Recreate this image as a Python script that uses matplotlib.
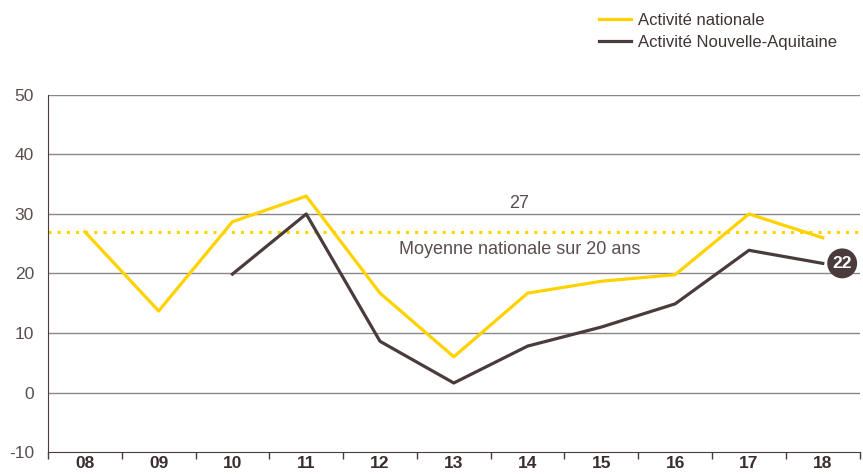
import numpy as np
import matplotlib.pyplot as plt

plt.rcParams['font.family'] = ['Liberation Sans', 'DejaVu Sans']
plt.rcParams['axes.unicode_minus'] = False

years = ['08', '09', '10', '11', '12', '13', '14', '15', '16', '17', '18']
nationale = [27, 13.7, 28.7, 33, 16.7, 6, 16.7, 18.7, 19.8, 30, 26]
nouvelle_aquitaine = [None, None, 19.9, 30, 8.6, 1.6, 7.8, 11, 14.9, 23.9, 21.7]
moyenne = 27
dernier = 22

yellow = '#FFD200'
dark = '#4A3C3C'
grey = '#8C8686'
text_col = '#5A4E4E'

fig = plt.figure(figsize=(8.63, 4.74), dpi=100)
ax = fig.add_axes([0.0556, 0.0464, 0.9405, 0.7532])

x = np.arange(len(years))
na = np.array([np.nan if v is None else v for v in nouvelle_aquitaine], dtype=float)

ax.axhline(moyenne, color=yellow, lw=2.2, linestyle=(0, (1, 2)), zorder=2)
ax.plot(x, nationale, color=yellow, lw=2.3, label='Activité nationale', zorder=3)
ax.plot(x, na, color=dark, lw=2.3, label='Activité Nouvelle-Aquitaine', zorder=4)

ax.text(5.89, 31.8, str(moyenne), ha='center', va='center', fontsize=13, color=text_col)
ax.text(5.89, 24.0, 'Moyenne nationale sur 20 ans', ha='center', va='center',
        fontsize=13, color=text_col)

ax.annotate(str(dernier), xy=(10, na[-1]), xytext=(14, 0), textcoords='offset points',
            ha='center', va='center', fontsize=12.5, fontweight='bold', color='white',
            bbox=dict(boxstyle='circle,pad=0.3', fc=dark, ec='none'), zorder=5)

ax.set_xlim(-0.5, 10.5)
ax.set_ylim(-10, 50)
ax.set_yticks(range(-10, 51, 10))
ax.set_xticks(np.arange(-0.5, 11, 1))
ax.set_xticklabels([])
ax.set_xticks(x, minor=True)
ax.set_xticklabels(years, minor=True, fontweight='bold', fontsize=12.5, color='#3A2E2E')
ax.tick_params(axis='x', which='major', length=5, color=dark, width=1)
ax.tick_params(axis='x', which='minor', length=0, pad=3)
ax.tick_params(axis='y', length=0, pad=10, labelsize=12.5, labelcolor=text_col)

for v in range(0, 51, 10):
    ax.axhline(v, color=grey, lw=1, zorder=1)

for s in ['top', 'right']:
    ax.spines[s].set_visible(False)
ax.spines['left'].set_color(dark)
ax.spines['bottom'].set_color(dark)

leg = fig.legend(loc='upper left', bbox_to_anchor=(0.677, 1.005), frameon=False,
                 fontsize=12, handlelength=1.9, handletextpad=0.45, labelspacing=0.45)
for t in leg.get_texts():
    t.set_color('#3F3434')

fig.savefig('out.png', dpi=100)
